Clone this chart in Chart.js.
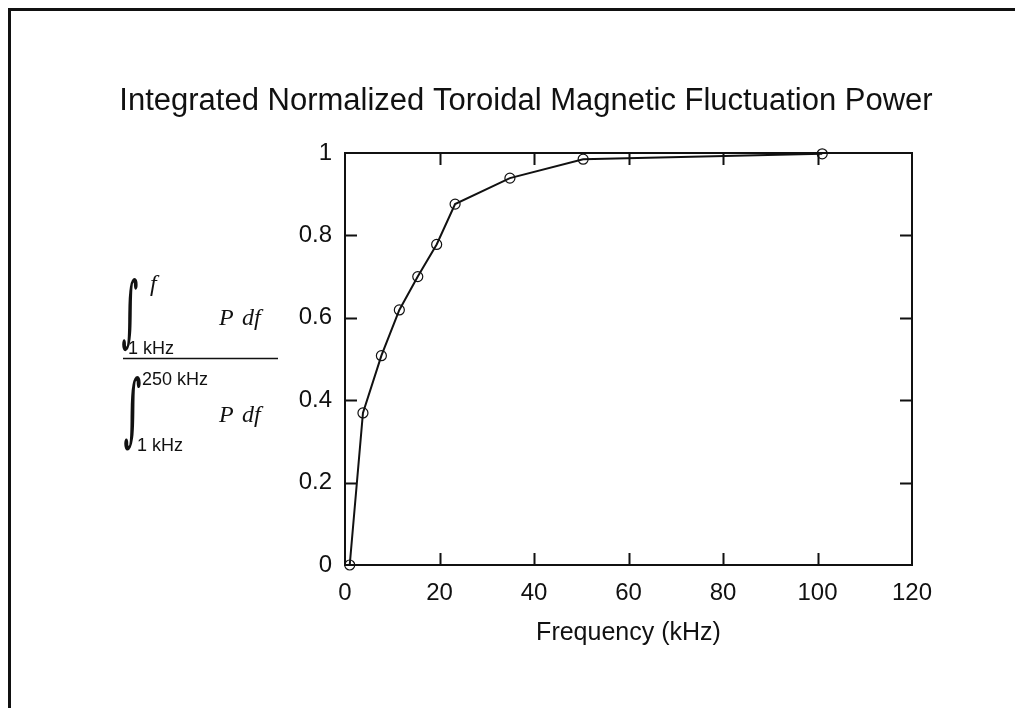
<!DOCTYPE html>
<html>
<head>
<meta charset="utf-8">
<script src="https://cdn.jsdelivr.net/npm/chart.js@4.4.0/dist/chart.umd.min.js"></script>
<style>
  html, body { margin: 0; padding: 0; background: #fff; }
  #wrap { width: 1015px; height: 708px; }
</style>
</head>
<body>
<div id="wrap"><canvas id="chart" width="1015" height="708"></canvas></div>
<script>
// values
const freqKHz = [1, 3.8, 7.7, 11.5, 15.4, 19.4, 23.3, 34.9, 50.4, 101];
const intPower = [0, 0.369, 0.508, 0.619, 0.700, 0.778, 0.876, 0.939, 0.985, 0.998];
const xTicks = [0, 20, 40, 60, 80, 100, 120];
const yTicks = [0, 0.2, 0.4, 0.6, 0.8, 1];
const titleText = "Integrated Normalized Toroidal Magnetic Fluctuation Power";
const xTitle = "Frequency (kHz)";

const SANS = '"Liberation Sans", Arial, Helvetica, sans-serif';
const SERIF = '"Liberation Serif", "Times New Roman", serif';
const INK = "#111";

// frame + inward ticks on all four sides
const frame = {
  id: "frame",
  beforeDatasetsDraw(chart) {
    const { ctx, chartArea: a, scales: { x, y } } = chart;
    const len = 12;
    ctx.save();
    ctx.strokeStyle = INK;
    ctx.lineWidth = 2;
    ctx.strokeRect(a.left, a.top, a.right - a.left, a.bottom - a.top);
    ctx.beginPath();
    x.ticks.forEach(t => {
      if (t.value <= x.min || t.value >= x.max) return;
      const px = Math.round(x.getPixelForValue(t.value)) + 0.5;
      ctx.moveTo(px, a.bottom); ctx.lineTo(px, a.bottom - len);
      ctx.moveTo(px, a.top); ctx.lineTo(px, a.top + len);
    });
    y.ticks.forEach(t => {
      if (t.value <= y.min || t.value >= y.max) return;
      const py = Math.round(y.getPixelForValue(t.value)) + 0.5;
      ctx.moveTo(a.left, py); ctx.lineTo(a.left + len, py);
      ctx.moveTo(a.right, py); ctx.lineTo(a.right - len, py);
    });
    ctx.stroke();
    ctx.restore();
  },
  afterDraw(chart) {
    const { ctx } = chart;
    ctx.save();
    // page border (top + left only)
    ctx.strokeStyle = INK;
    ctx.lineWidth = 3;
    ctx.beginPath();
    ctx.moveTo(9.5, 708); ctx.lineTo(9.5, 9.5); ctx.lineTo(1015, 9.5);
    ctx.stroke();

    // title
    ctx.fillStyle = INK;
    ctx.font = "31px " + SANS;
    ctx.textAlign = "center";
    ctx.textBaseline = "alphabetic";
    ctx.fillText(titleText, 526, 110);

    // y label: ratio of two integrals
    drawIntegral(ctx, 122, 277, 16, 74);
    drawIntegral(ctx, 124, 375, 17, 75);
    ctx.textAlign = "left";
    ctx.font = "italic 24px " + SERIF;
    ctx.fillText("f", 150, 291);
    ctx.fillText("P", 219, 325);
    ctx.fillText("df", 242, 325);
    ctx.fillText("P", 219, 422);
    ctx.fillText("df", 242, 422);
    ctx.font = "18px " + SANS;
    ctx.fillText("1 kHz", 128, 354);
    ctx.fillText("250 kHz", 142, 385);
    ctx.fillText("1 kHz", 137, 451);
    ctx.lineWidth = 1.5;
    ctx.beginPath();
    ctx.moveTo(123, 358.5); ctx.lineTo(278, 358.5);
    ctx.stroke();
    ctx.restore();
  }
};

function drawIntegral(ctx, left, top, w, h) {
  ctx.save();
  ctx.font = 'bold 60px "DejaVu Serif", serif';
  ctx.textAlign = "left";
  ctx.textBaseline = "alphabetic";
  const m = ctx.measureText("\u222B");
  const gw = m.actualBoundingBoxLeft + m.actualBoundingBoxRight;
  const gh = m.actualBoundingBoxAscent + m.actualBoundingBoxDescent;
  ctx.translate(left, top);
  ctx.scale(w / gw, h / gh);
  ctx.fillText("\u222B", m.actualBoundingBoxLeft, m.actualBoundingBoxAscent);
  ctx.restore();
}

new Chart(document.getElementById("chart"), {
  type: "scatter",
  data: {
    datasets: [{
      data: freqKHz.map((f, i) => ({ x: f, y: intPower[i] })),
      showLine: true,
      borderColor: INK,
      borderWidth: 2,
      pointStyle: "circle",
      pointRadius: 5,
      pointBorderWidth: 1.2,
      pointBorderColor: INK,
      pointBackgroundColor: "rgba(0,0,0,0)",
      clip: false
    }]
  },
  options: {
    responsive: false,
    animation: false,
    layout: { padding: { left: 0, top: 153, right: 103, bottom: 0 } },
    plugins: { legend: { display: false }, tooltip: { enabled: false }, title: { display: false } },
    scales: {
      x: {
        type: "linear",
        min: 0, max: 120,
        afterBuildTicks: s => { s.ticks = xTicks.map(v => ({ value: v })); },
        afterFit: s => { s.height = 143; },
        grid: { display: false, drawTicks: false },
        border: { display: false },
        ticks: { color: INK, padding: 14, font: { family: SANS, size: 24 }, callback: v => String(v) },
        title: {
          display: true, text: xTitle, color: INK,
          font: { family: SANS, size: 25, lineHeight: 1.2 },
          padding: { top: 0, bottom: 60 }
        }
      },
      y: {
        type: "linear",
        min: 0, max: 1,
        afterBuildTicks: s => { s.ticks = yTicks.map(v => ({ value: v })); },
        afterFit: s => { s.width = 345; },
        grid: { display: false, drawTicks: false },
        border: { display: false },
        ticks: { color: INK, padding: 13, font: { family: SANS, size: 24 }, callback: v => String(v) }
      }
    }
  },
  plugins: [frame]
});
</script>
</body>
</html>
